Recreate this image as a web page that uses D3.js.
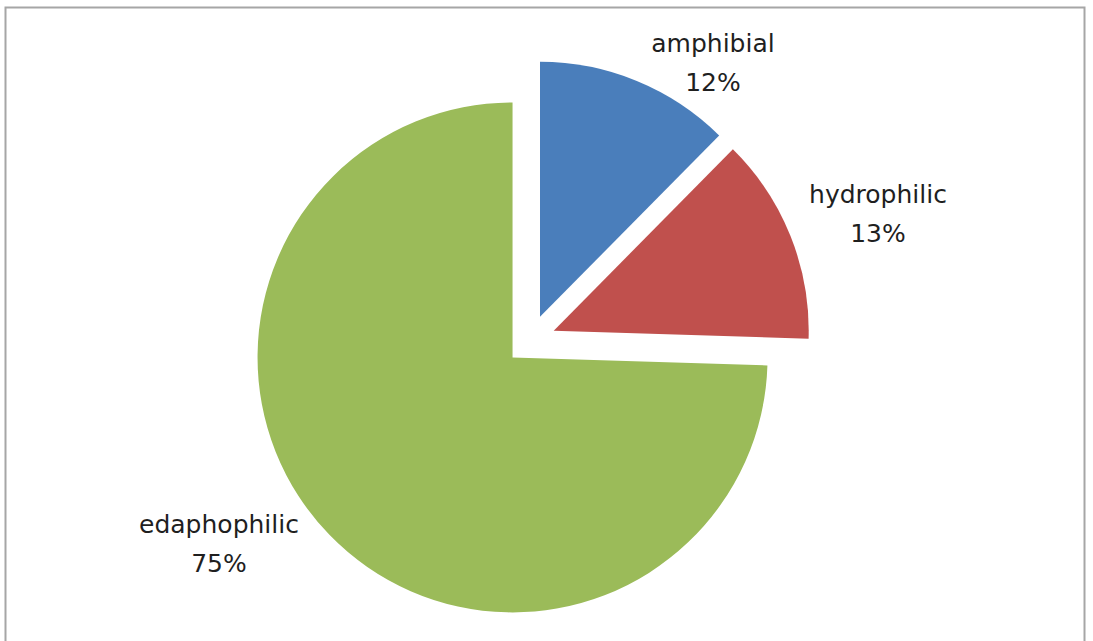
<!DOCTYPE html>
<html>
<head>
<meta charset="utf-8">
<script src="https://cdn.jsdelivr.net/npm/d3@7/dist/d3.min.js"></script>
<style>
  html, body { margin: 0; padding: 0; background: #fff; }
  svg { display: block; }
</style>
</head>
<body>
<svg id="chart" width="1093" height="641"></svg>
<script>
const categories = ["amphibial", "hydrophilic", "edaphophilic"];
const values = [12.4, 13.1, 74.5];
const colors = ["#4A7EBB", "#C0504D", "#9BBB59"];

const svg = d3.select("#chart");

// frame
svg.append("rect")
  .attr("x", 5.5).attr("y", 7.5)
  .attr("width", 1079).attr("height", 660)
  .attr("fill", "#fff")
  .attr("stroke", "#a6a6a6").attr("stroke-width", 2);

const cx = 530.5, cy = 340, r = 255, explode = 25;

const data = categories.map((c, i) => ({ name: c, value: values[i], color: colors[i] }));
const pie = d3.pie().sort(null).value(d => d.value);
const arcs = pie(data);
const arc = d3.arc().innerRadius(0).outerRadius(r);

const g = svg.append("g").attr("transform", `translate(${cx},${cy})`);

g.selectAll("path").data(arcs).enter().append("path")
  .attr("d", arc)
  .attr("fill", d => d.data.color)
  .attr("transform", d => {
    const a = (d.startAngle + d.endAngle) / 2;
    return `translate(${explode * Math.sin(a)},${-explode * Math.cos(a)})`;
  });

// label anchor points (name baseline), layout only
const labelPos = [[713, 52], [878, 203], [219, 533]];
const lbl = svg.append("g")
  .attr("font-family", "'DejaVu Sans', Verdana, sans-serif")
  .attr("font-size", 25)
  .attr("fill", "#1f1f1f")
  .attr("text-anchor", "middle");

arcs.forEach((d, i) => {
  const [x, y] = labelPos[i];
  lbl.append("text").attr("x", x).attr("y", y).text(d.data.name);
  lbl.append("text").attr("x", x).attr("y", y + 39)
    .text(Math.round(d.data.value) + "%");
});
</script>
</body>
</html>
